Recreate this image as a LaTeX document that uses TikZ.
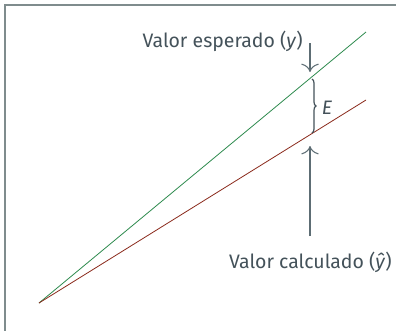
\documentclass[tikz,border=0pt]{standalone}
\usepackage{fontspec}
\setmainfont{Fira Sans}
\usetikzlibrary{arrows.meta,decorations.pathreplacing}
\definecolor{framegray}{HTML}{7F8C8D}
\definecolor{txtgray}{HTML}{44525A}
\definecolor{arrgray}{HTML}{5D6D74}
\definecolor{lgreen}{HTML}{2E8B4E}
\definecolor{lred}{HTML}{8B2A1C}

\begin{document}
\begin{tikzpicture}[x=0.75pt, y=-0.75pt, every node/.style={font=\fontsize{14.6}{17}\selectfont, text=txtgray},
	pointer/.style={arrgray, line width=0.8pt, -{To[length=2.2mm]}}]
	\useasboundingbox (0,0) rectangle (396,330);
	\fill[white] (0,0) rectangle (396,330);
	\draw[framegray, line width=1.5pt] (5,340) -- (5,4.5) -- (406,4.5);
	% the two lines
	\coordinate (O) at (39,303);
	\coordinate (G) at (366,32);
	\coordinate (R) at (366,100);
	\draw[lgreen, line width=0.6pt] (O) -- (G);
	\draw[lred, line width=0.6pt] (O) -- (R);
	% error
	\coordinate (Gy) at (312,79);
	\coordinate (Ry) at (312,133);
	\draw[txtgray, line width=0.9pt, decorate, decoration={brace, amplitude=3pt}] (Gy) -- (Ry);
	\node (err) at (327,108) {\textit{E}};
	% labels
	\node[anchor=east, inner sep=0pt] (esp) at (303,41) {Valor esperado (\textit{y})};
	\node[anchor=east, inner sep=0pt] (calc) at (392,262) {Valor calculado (\textit{ŷ})};
	\coordinate (espA) at (310,43);
	\coordinate (espB) at (310,72);
	\coordinate (calcA) at (310,236);
	\coordinate (calcB) at (310,146);
	\draw[pointer] (espA) -- (espB);
	\draw[pointer] (calcA) -- (calcB);
\end{tikzpicture}
\end{document}
